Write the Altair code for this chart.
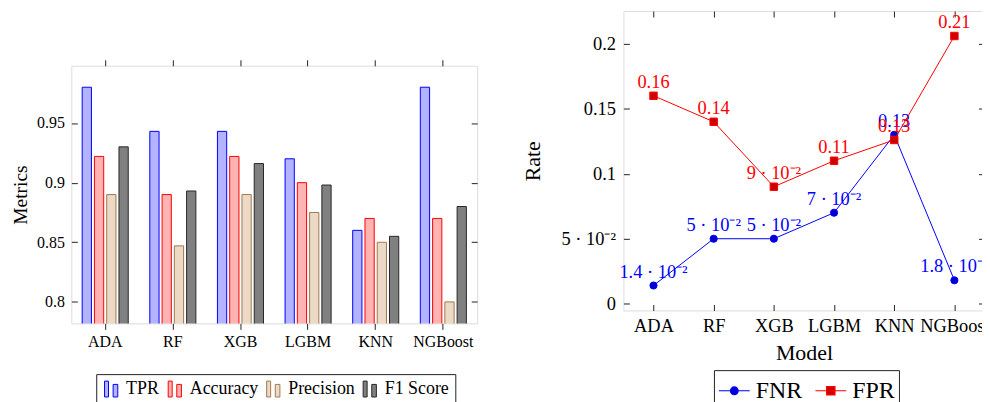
import altair as alt
import pandas as pd

# ---------------- data ----------------
MODELS = ["ADA", "RF", "XGB", "LGBM", "KNN", "NGBoost"]
METRICS = ["TPR", "Accuracy", "Precision", "F1 Score"]
TPR = [0.98, 0.943, 0.943, 0.92, 0.86, 0.98]
ACCURACY = [0.922, 0.89, 0.922, 0.90, 0.87, 0.87]
PRECISION = [0.89, 0.847, 0.89, 0.875, 0.85, 0.80]
F1_SCORE = [0.93, 0.893, 0.916, 0.898, 0.855, 0.88]

SERIES = ["FNR", "FPR"]
FNR = [0.014, 0.05, 0.05, 0.07, 0.13, 0.018]
FPR = [0.16, 0.14, 0.09, 0.11, 0.126, 0.206]
FNR_LABELS = ["1.4 · 10⁻²", "5 · 10⁻²", "5 · 10⁻²", "7 · 10⁻²", "0.13", "1.8 · 10⁻²"]
FPR_LABELS = ["0.16", "0.14", "9 · 10⁻²", "0.11", "0.13", "0.21"]

Y1_TICKS = [0.8, 0.85, 0.9, 0.95]
Y1_DOMAIN = [0.782, 0.998]
Y2_TICKS = [0, 0.05, 0.1, 0.15, 0.2]
Y2_TICK_LABELS = ["0", "5 · 10⁻²", "0.1", "0.15", "0.2"]
Y2_DOMAIN = [-0.0052, 0.2252]

# ---------------- style ----------------
FONT = "Liberation Serif"
FRAME = "#222222"
METRIC_FILLS = ["#b3b3ff", "#ffb3b3", "#ecd9c6", "#808080"]
METRIC_STROKES = ["#0000ff", "#ff0000", "#a07850", "#262626"]
LINE_COLORS = ["#0000ff", "#ff0000"]
MARK_FILLS = ["#0000cc", "#cc0000"]
BAR_ICON = "M-1,-1.2H-0.4V1.2H-1Z M0.3,-0.7H1V1.2H0.3Z"
LEGEND_PATHS = [
    "M-1,0H1M0.25,0A0.25,0.25,0,1,1,-0.25,0A0.25,0.25,0,1,1,0.25,0Z",
    "M-1,0H1M-0.27,-0.27H0.27V0.27H-0.27Z",
]

W1, H1 = 408, 259
W2, H2 = 363, 301

bars_df = pd.DataFrame(
    [
        {"model": m, "metric": name, "value": v}
        for name, vals in zip(METRICS, [TPR, ACCURACY, PRECISION, F1_SCORE])
        for m, v in zip(MODELS, vals)
    ]
)
rates_df = pd.DataFrame(
    [
        {"model": m, "series": s, "rate": v, "label": lab}
        for s, vals, labs in [("FNR", FNR, FNR_LABELS), ("FPR", FPR, FPR_LABELS)]
        for m, v, lab in zip(MODELS, vals, labs)
    ]
)


def tick_axis(orient, offset=0, values=None):
    kw = dict(orient=orient, offset=offset, labels=False, ticks=True, tickSize=6,
              tickColor=FRAME, tickWidth=1, domain=False, grid=False, title=None)
    if values is not None:
        kw["values"] = values
    return alt.Axis(**kw)


# ---------------- left: grouped bars ----------------
x1_scale = alt.Scale(paddingInner=0.319, paddingOuter=0.16)
y1_scale = alt.Scale(domain=Y1_DOMAIN, zero=False, nice=False)

bar_legend = alt.Legend(
    title=None, orient="none", legendX=25, legendY=365, direction="horizontal",
    symbolType=BAR_ICON, symbolSize=177, symbolStrokeWidth=1,
    labelFont=FONT, labelFontSize=18, labelColor="black", labelOffset=6,
    columnPadding=6, padding=6, strokeColor=FRAME, fillColor="white",
)

bars = alt.Chart(bars_df).mark_bar(strokeWidth=1, clip=True).encode(
    x=alt.X("model:N", sort=MODELS, scale=x1_scale,
            axis=alt.Axis(orient="bottom", title=None, labelAngle=0, labelFont=FONT,
                          labelFontSize=16, labelColor="black", labelPadding=4,
                          tickSize=6, tickColor=FRAME, domain=False, grid=False,
                          labelOverlap=False)),
    xOffset=alt.XOffset("metric:N", sort=METRICS,
                        scale=alt.Scale(paddingInner=0.245, paddingOuter=0)),
    y=alt.Y("value:Q", scale=y1_scale,
            axis=alt.Axis(orient="left", title="Metrics", values=Y1_TICKS, format="~g",
                          labelFont=FONT, labelFontSize=16, labelColor="black",
                          labelPadding=7, ticks=False, domain=False, grid=False,
                          titleFont=FONT, titleFontSize=19.5, titleFontWeight="normal",
                          titleColor="black", titlePadding=6, labelOverlap=False)),
    fill=alt.Fill("metric:N", sort=METRICS,
                  scale=alt.Scale(domain=METRICS, range=METRIC_FILLS), legend=bar_legend),
    stroke=alt.Stroke("metric:N", sort=METRICS,
                      scale=alt.Scale(domain=METRICS, range=METRIC_STROKES), legend=bar_legend),
)

ticks1_b = alt.Chart(bars_df).mark_bar(opacity=0, clip=True).encode(
    x=alt.X("model:N", sort=MODELS, axis=tick_axis("top")),
    y=alt.Y("value:Q", axis=tick_axis("right", -W1, Y1_TICKS)),
)
ticks1_c = alt.Chart(bars_df).mark_bar(opacity=0, clip=True).encode(
    x=alt.X("model:N", sort=MODELS, axis=None),
    y=alt.Y("value:Q", axis=tick_axis("left", -W1, Y1_TICKS)),
)

left_plot = alt.layer(bars, ticks1_b, ticks1_c).resolve_axis(
    x="independent", y="independent"
).properties(width=W1, height=H1)

spacer = alt.Chart(bars_df).mark_point(opacity=0, size=1, strokeWidth=0).encode(
    x=alt.X("value:Q", axis=None, scale=alt.Scale(domain=[0, 2])),
    y=alt.Y("value:Q", axis=None, scale=alt.Scale(domain=[0, 2])),
).properties(width=10, height=47, view=alt.ViewBackground(stroke="transparent"))

left = alt.vconcat(spacer, left_plot, spacing=0)

# ---------------- right: rate lines ----------------
x2_scale = alt.Scale(padding=0.5)
y2_scale = alt.Scale(domain=Y2_DOMAIN, zero=False, nice=False)
label_expr = " : ".join(
    f"abs(datum.value - ({v})) < 1e-9 ? '{l}'" for v, l in zip(Y2_TICKS, Y2_TICK_LABELS)
) + " : datum.label"

base2 = alt.Chart(rates_df)

x_main = alt.X("model:N", sort=MODELS, scale=x2_scale,
               axis=alt.Axis(orient="bottom", title="Model", labelAngle=0, labelFont=FONT,
                             labelFontSize=18.5, labelColor="black", labelPadding=6,
                             ticks=False, domain=False, grid=False, labelOverlap=False,
                             titleFont=FONT, titleFontSize=22, titleFontWeight="normal",
                             titleColor="black", titlePadding=8))
y_main = alt.Y("rate:Q", scale=y2_scale,
               axis=alt.Axis(orient="left", title="Rate", values=Y2_TICKS,
                             labelExpr=label_expr, labelFont=FONT, labelFontSize=18.5,
                             labelColor="black", labelPadding=8, ticks=False, domain=False,
                             grid=False, labelOverlap=False, titleFont=FONT,
                             titleFontSize=22, titleFontWeight="normal", titleColor="black",
                             titlePadding=17))
x_none = alt.X("model:N", sort=MODELS, axis=None)
y_none = alt.Y("rate:Q", axis=None)

layers = []
for i, s in enumerate(SERIES):
    sub = base2.transform_filter(alt.datum.series == s)
    xx = x_main if i == 0 else x_none
    yy = y_main if i == 0 else y_none
    layers.append(sub.mark_line(color=LINE_COLORS[i], strokeWidth=1).encode(x=xx, y=yy))
    layers.append(
        sub.mark_point(shape="circle" if i == 0 else "square", filled=True,
                       fill=MARK_FILLS[i], stroke=LINE_COLORS[i], strokeWidth=1,
                       size=52 if i == 0 else 56, opacity=1).encode(x=x_none, y=y_none)
    )
    layers.append(
        sub.mark_text(font=FONT, fontSize=18.5, color=LINE_COLORS[i], dy=-8,
                      baseline="alphabetic", align="center").encode(
            x=x_none, y=y_none, text="label:N")
    )

ticks2_b = base2.mark_point(opacity=0).encode(
    x=alt.X("model:N", sort=MODELS, axis=tick_axis("top", -H2)),
    y=alt.Y("rate:Q", axis=tick_axis("right", -W2, Y2_TICKS)),
)
ticks2_c = base2.mark_point(opacity=0).encode(
    x=alt.X("model:N", sort=MODELS, axis=tick_axis("bottom", -H2)),
    y=alt.Y("rate:Q", axis=tick_axis("left", -W2, Y2_TICKS)),
)

rate_legend = alt.Legend(
    title=None, orient="none", legendX=91, legendY=361, direction="horizontal",
    symbolSize=961, symbolStrokeWidth=1.2,
    labelFont=FONT, labelFontSize=24, labelColor="black", labelOffset=5,
    columnPadding=10, padding=4, strokeColor=FRAME, fillColor="white",
)
legend_layer = base2.transform_filter("false").mark_point(
    filled=True, strokeWidth=1.2, opacity=1
).encode(
    x=x_none, y=y_none,
    shape=alt.Shape("series:N", scale=alt.Scale(domain=SERIES, range=LEGEND_PATHS),
                    legend=rate_legend),
    fill=alt.Fill("series:N", scale=alt.Scale(domain=SERIES, range=MARK_FILLS),
                  legend=rate_legend),
    stroke=alt.Stroke("series:N", scale=alt.Scale(domain=SERIES, range=LINE_COLORS),
                      legend=rate_legend),
)

right = alt.layer(*layers, ticks2_b, ticks2_c, legend_layer).resolve_axis(
    x="independent", y="independent"
).properties(width=W2, height=H2)

chart = alt.hconcat(left, right, spacing=42).resolve_scale(
    fill="independent", stroke="independent", shape="independent"
).resolve_legend(
    fill="independent", stroke="independent", shape="independent"
).configure_view(
    stroke=FRAME, strokeWidth=1
).configure(
    font=FONT, background="white",
    padding={"left": 1.7, "top": 1, "right": -8.5, "bottom": 0},
)

chart.save("out.html", embed_options={"renderer": "svg", "actions": False})
